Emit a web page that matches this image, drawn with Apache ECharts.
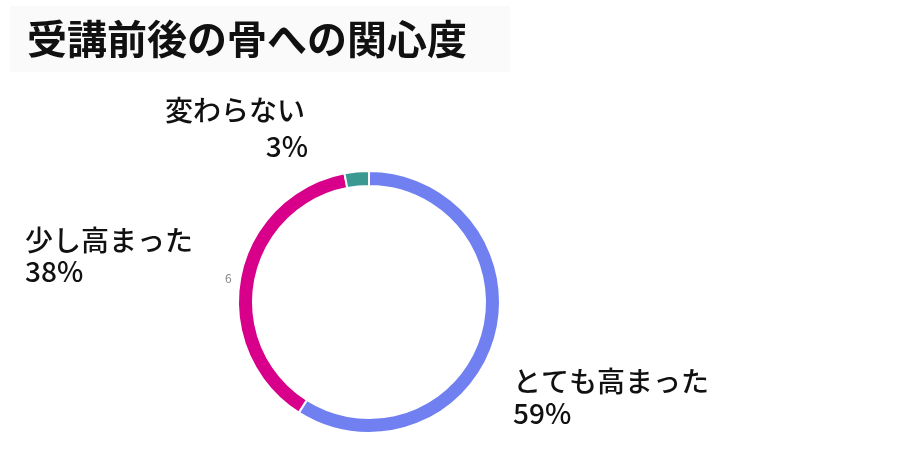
<!DOCTYPE html>
<html><head><meta charset="utf-8">
<script src="https://cdn.jsdelivr.net/npm/echarts@6/dist/echarts.min.js"></script>
<style>html,body{margin:0;background:#fff}#c{width:918px;height:470px}</style>
</head><body><div id="c"></div>
<script>
const titleText = '受講前後の骨への関心度';
const categories = ['とても高まった', '少し高まった', '変わらない'];
const values = [59, 38, 3];
const colors = ['#7080f0', '#d8008a', '#3a9a92'];
const F = '"Noto Sans CJK JP", "Noto Sans", sans-serif';
const chart = echarts.init(document.getElementById('c'));
const txt = (x, y, t, align) => ({
  type: 'text', x: x, y: y,
  style: { text: t, font: '500 28px ' + F, fill: '#111', align: align || 'left', verticalAlign: 'middle' }
});
chart.setOption({
  animation: false,
  title: { text: titleText, left: 22, top: 14, textStyle: { fontFamily: F, fontSize: 40, fontWeight: 'bold', color: '#111' } },
  graphic: [
    { type: 'rect', shape: { x: 10, y: 6, width: 500, height: 66 }, style: { fill: '#fafafa' }, z: -10 },
    txt(165, 110, '変わらない'),
    txt(308, 146, '3%', 'right'),
    txt(25, 240, categories[1]),
    txt(25, 271, '38%'),
    txt(513, 381, categories[0]),
    txt(513, 413, '59%'),
    { type: 'text', x: 225, y: 272, style: { text: '6', font: '12px ' + F, fill: '#888' } }
  ],
  series: [{
    type: 'pie', center: [369, 302], radius: [116, 131], startAngle: 90, clockwise: true,
    label: { show: false }, labelLine: { show: false },
    itemStyle: { borderColor: '#fff', borderWidth: 2 },
    data: categories.map((c, i) => ({ name: c, value: values[i], itemStyle: { color: colors[i] } }))
  }]
});
</script></body></html>
